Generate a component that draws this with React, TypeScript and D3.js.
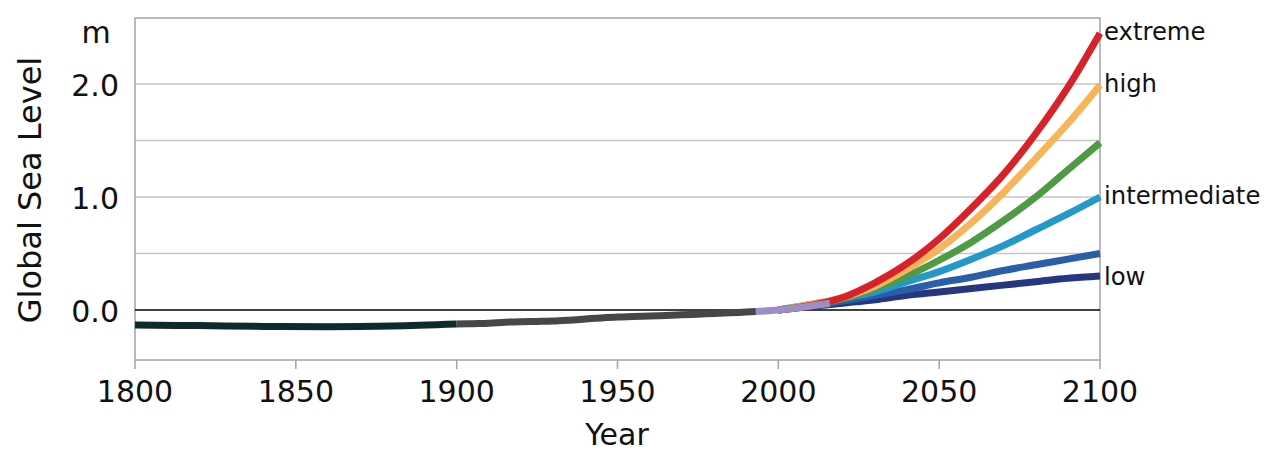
import React from "react";
import * as d3 from "d3";

const W = 1277;
const H = 459;

// Historical records
const tideEarlyYears = [1800, 1820, 1840, 1860, 1880, 1900];
const tideEarlyValues = [-0.133, -0.138, -0.145, -0.148, -0.142, -0.125];

const tideYears = [1900, 1905, 1910, 1915, 1920, 1925, 1930, 1935, 1940, 1945, 1950, 1955, 1960, 1965, 1970, 1975, 1980, 1985, 1990, 1993];
const tideValues = [-0.125, -0.121, -0.117, -0.108, -0.103, -0.101, -0.098, -0.09, -0.08, -0.07, -0.062, -0.058, -0.053, -0.048, -0.043, -0.037, -0.031, -0.025, -0.018, -0.014];

const satYears = [1993, 2000, 2005, 2010, 2016];
const satValues = [-0.014, 0.0, 0.016, 0.035, 0.06];

// Scenario projections (relative to 2000)
const projYears = [2000, 2010, 2020, 2030, 2040, 2050, 2060, 2070, 2080, 2090, 2100];
const lowValues = [0, 0.03, 0.06, 0.09, 0.13, 0.16, 0.19, 0.22, 0.25, 0.28, 0.3];
const intLowValues = [0, 0.04, 0.08, 0.13, 0.18, 0.24, 0.29, 0.35, 0.4, 0.45, 0.5];
const intermediateValues = [0, 0.04, 0.1, 0.16, 0.25, 0.34, 0.45, 0.57, 0.71, 0.85, 1.0];
const intHighValues = [0, 0.05, 0.1, 0.19, 0.3, 0.44, 0.6, 0.79, 1.0, 1.24, 1.48];
const highValues = [0, 0.05, 0.11, 0.21, 0.36, 0.54, 0.77, 1.04, 1.34, 1.65, 1.99];
const extremeValues = [0, 0.04, 0.11, 0.24, 0.41, 0.63, 0.9, 1.2, 1.56, 1.97, 2.45];

const xTicks = [1800, 1850, 1900, 1950, 2000, 2050, 2100];
const yTickLabels = [0, 1, 2];
const yGrid = [0.5, 1.0, 1.5, 2.0];

const scenarios = [
  { name: "low", values: lowValues, color: "#263680", label: "low" },
  { name: "intLow", values: intLowValues, color: "#2a5ea8", label: "" },
  { name: "intermediate", values: intermediateValues, color: "#2598ca", label: "intermediate" },
  { name: "intHigh", values: intHighValues, color: "#4f9a45", label: "" },
  { name: "high", values: highValues, color: "#f8b458", label: "high" },
  { name: "extreme", values: extremeValues, color: "#d92129", label: "extreme" },
];

const FONT = "'DejaVu Sans', Verdana, sans-serif";

export default function App() {
  const left = 135, right = 1100, top = 18, bottom = 360;
  const x = d3.scaleLinear().domain([1800, 2100]).range([left, right]);
  const y = d3.scaleLinear().domain([-0.4425, 2.584]).range([bottom, top]);

  const line = d3
    .line<[number, number]>()
    .x((d) => x(d[0]))
    .y((d) => y(d[1]))
    .curve(d3.curveMonotoneX);

  const zip = (a: number[], b: number[]) => a.map((v, i) => [v, b[i]] as [number, number]);

  const lw = 7;

  return (
    <svg width={W} height={H} style={{ position: "absolute", left: 0, top: 0, background: "#fff" }}>
      <rect x={0} y={0} width={W} height={H} fill="#fff" />
      {/* gridlines */}
      {yGrid.map((g) => (
        <line key={g} x1={left} x2={right} y1={y(g)} y2={y(g)} stroke="#c6c6c6" strokeWidth={1.5} />
      ))}
      {/* frame */}
      <rect x={left} y={top} width={right - left} height={bottom - top} fill="none" stroke="#a3a3a3" strokeWidth={1.5} />
      {/* zero line */}
      <line x1={left} x2={right} y1={y(0)} y2={y(0)} stroke="#000" strokeWidth={1.5} />
      {/* x ticks */}
      {xTicks.map((t) => (
        <g key={t}>
          <line x1={x(t)} x2={x(t)} y1={bottom} y2={bottom + 9} stroke="#a3a3a3" strokeWidth={1.5} />
          <text x={x(t)} y={402} textAnchor="middle" fontFamily={FONT} fontSize={30} fill="#111">
            {t}
          </text>
        </g>
      ))}
      {/* y tick labels */}
      {yTickLabels.map((t) => (
        <text key={t} x={119} y={y(t) + 12} textAnchor="end" fontFamily={FONT} fontSize={30} fill="#111">
          {t.toFixed(1)}
        </text>
      ))}
      <text x={96} y={43} textAnchor="middle" fontFamily={FONT} fontSize={30} fill="#111">
        m
      </text>
      {/* axis titles */}
      <text x={617} y={445} textAnchor="middle" fontFamily={FONT} fontSize={30} fill="#111">
        Year
      </text>
      <text
        transform={`translate(41,190) rotate(-90)`}
        textAnchor="middle"
        fontFamily={FONT}
        fontSize={32}
        fill="#111"
      >
        Global Sea Level
      </text>
      {/* scenarios */}
      {scenarios.map((s) => (
        <path
          key={s.name}
          d={line(zip(projYears, s.values)) || ""}
          fill="none"
          stroke={s.color}
          strokeWidth={lw}
        />
      ))}
      {/* historical */}
      <path d={line(zip(tideEarlyYears, tideEarlyValues)) || ""} fill="none" stroke="#0e2b2c" strokeWidth={lw} />
      <path d={line(zip(tideYears, tideValues)) || ""} fill="none" stroke="#474747" strokeWidth={lw} />
      <path d={line(zip(satYears, satValues)) || ""} fill="none" stroke="#9b8fc6" strokeWidth={lw} />
      {/* labels */}
      {scenarios
        .filter((s) => s.label)
        .map((s) => (
          <text
            key={s.name}
            x={1104}
            y={y(s.values[s.values.length - 1]) + (s.name === "low" ? 9 : 7)}
            fontFamily={FONT}
            fontSize={24.3}
            fill="#111"
          >
            {s.label}
          </text>
        ))}
    </svg>
  );
}
